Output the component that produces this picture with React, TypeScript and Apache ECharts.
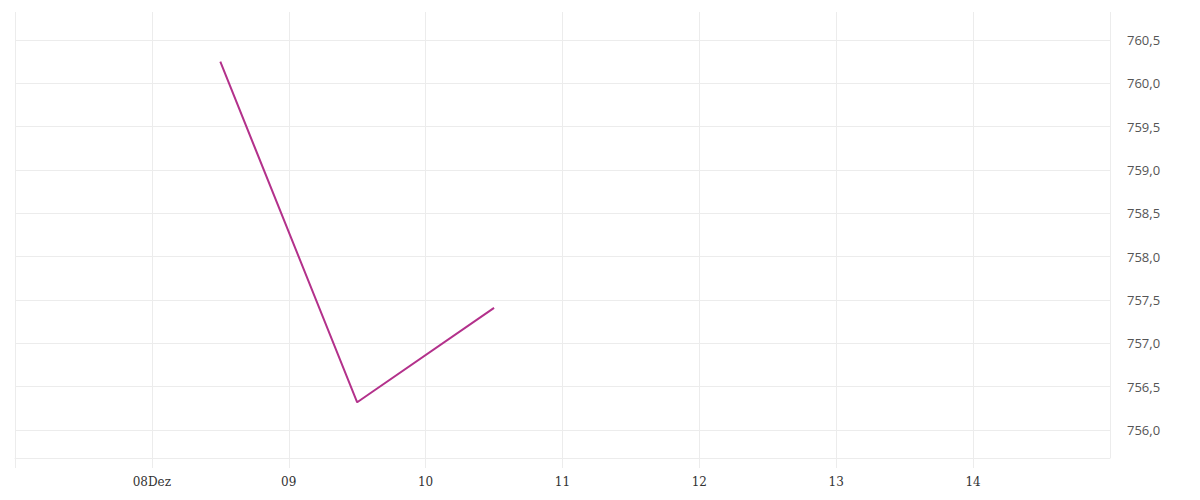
import React, { useEffect, useRef } from "react";
import * as echarts from "echarts";

const dates: Date[] = [
  new Date(2023, 11, 8, 12),
  new Date(2023, 11, 9, 12),
  new Date(2023, 11, 10, 12),
];
const values: number[] = [760.25, 756.32, 757.41];
const xMin = new Date(2023, 11, 7).getTime();
const xMax = new Date(2023, 11, 15).getTime();
const yMin = 755.677;
const yMax = 760.823;

export default function App() {
  const ref = useRef<HTMLDivElement>(null);
  useEffect(() => {
    document.body.style.margin = "0";
    const chart = echarts.init(ref.current!, null, { renderer: "svg" });
    const gridColor = "#ececec";
    chart.setOption({
      animation: false,
      grid: { left: 15, right: 90, top: 12, bottom: 42, containLabel: false },
      xAxis: {
        type: "time",
        min: xMin,
        max: xMax,
        minInterval: 86400000,
        maxInterval: 86400000,
        axisLine: { show: true, lineStyle: { color: gridColor, width: 1 } },
        axisTick: { show: true, length: 10, lineStyle: { color: gridColor } },
        splitLine: { show: true, showMinLine: true, showMaxLine: true, lineStyle: { color: gridColor } },
        axisLabel: {
          showMinLabel: false,
          showMaxLabel: false,
          margin: 18,
          color: "#333",
          fontFamily: "DejaVu Serif",
          fontSize: 12,
          formatter: (v: number) => {
            if (v <= xMin || v >= xMax) return "";
            const d = new Date(v);
            const dd = String(d.getDate()).padStart(2, "0");
            return d.getDate() === 8 ? dd + "Dez" : dd;
          },
        },
      },
      yAxis: {
        type: "value",
        position: "right",
        min: yMin,
        max: yMax,
        splitNumber: 10,
        axisLine: { show: false },
        axisTick: { show: false },
        splitLine: { show: true, showMinLine: false, showMaxLine: false, lineStyle: { color: gridColor } },
        axisLabel: {
          showMinLabel: false,
          showMaxLabel: false,
          margin: 17,
          color: "#555",
          fontFamily: "Open Sans",
          fontSize: 13,
          formatter: (v: number) => v.toFixed(1).replace(".", ","),
        },
      },
      series: [
        {
          type: "line",
          data: dates.map((d, i) => [d.getTime(), values[i]]),
          showSymbol: false,
          lineStyle: { color: "#b3318b", width: 2 },
          itemStyle: { color: "#b3318b" },
        },
      ],
    });
    return () => chart.dispose();
  }, []);
  return <div ref={ref} style={{ width: 1200, height: 500 }} />;
}
